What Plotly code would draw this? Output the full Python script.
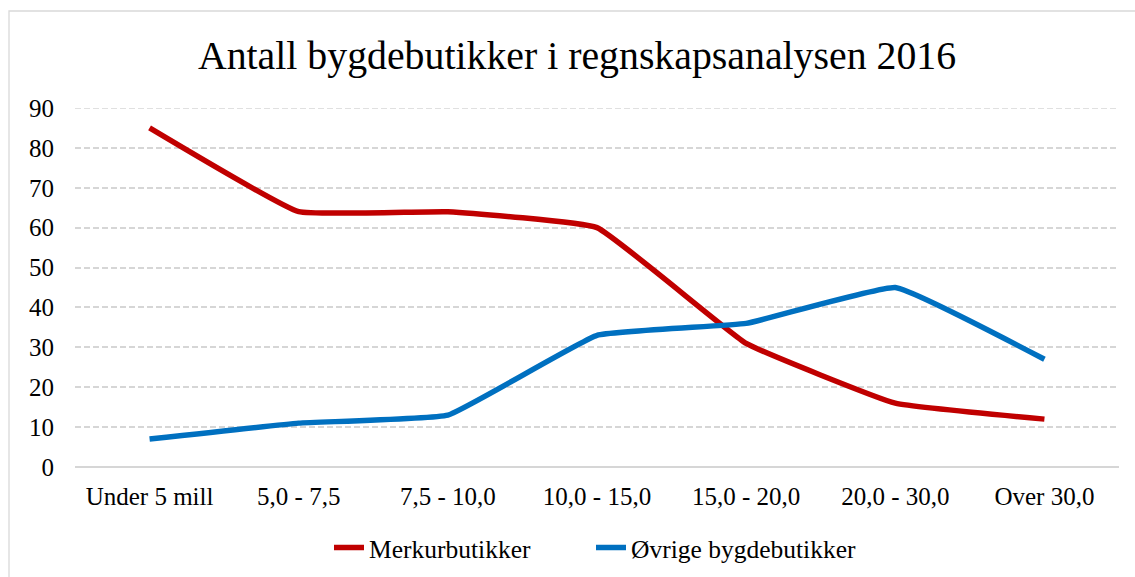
import plotly.graph_objects as go

categories = ["Under 5 mill", "5,0 - 7,5", "7,5 - 10,0", "10,0 - 15,0", "15,0 - 20,0", "20,0 - 30,0", "Over 30,0"]
merkur = [85, 64, 64, 60, 31, 16, 12]
ovrige = [7, 11, 13, 33, 36, 45, 27]
y_ticks = [0, 10, 20, 30, 40, 50, 60, 70, 80, 90]

FONT = "Liberation Serif"
W, H = 1135, 577
L, R, T, B = 75, 16, 108, 110
pw, ph = W - L - R, H - T - B

def px(x):
    return (x - L) / pw

def py(y):
    return (H - B - y) / ph

fig = go.Figure()
fig.add_trace(go.Scatter(x=categories, y=merkur, mode="lines", name="Merkurbutikker",
                         legend="legend",
                         line=dict(color="#C00000", width=5.5, shape="spline", smoothing=0.3)))
fig.add_trace(go.Scatter(x=categories, y=ovrige, mode="lines", name="Øvrige bygdebutikker",
                         legend="legend2",
                         line=dict(color="#0070C0", width=5.5, shape="spline", smoothing=0.3)))

leg_common = dict(orientation="h", xref="container", yref="container",
                  xanchor="left", y=1 - 548 / H, yanchor="middle",
                  font=dict(family=FONT, size=25.5), bgcolor="rgba(0,0,0,0)")

fig.update_layout(
    width=W, height=H,
    margin=dict(l=L, r=R, t=T, b=B, autoexpand=False),
    paper_bgcolor="white", plot_bgcolor="white",
    font=dict(family=FONT, color="#000000", size=25),
    title=dict(text="Antall bygdebutikker i regnskapsanalysen 2016",
               font=dict(family=FONT, size=39.8, color="#000000"),
               x=577 / W, xanchor="center", y=1 - 55 / H, yanchor="middle"),
    showlegend=True,
    legend=dict(x=329 / W, **leg_common),
    legend2=dict(x=591 / W, **leg_common),
    xaxis=dict(type="category", showgrid=False, showline=False, zeroline=False,
               automargin=False,
               ticks="", tickfont=dict(family=FONT, size=25), ticklabelstandoff=12,
               range=[-0.5, len(categories) - 0.5]),
    yaxis=dict(range=[0, 90], tickvals=y_ticks, showgrid=True, gridcolor="#D6D6D6",
               griddash="6px,3px", gridwidth=1.5, zeroline=True, zerolinecolor="#D6D6D6",
               zerolinewidth=1.8, showline=False, ticks="", automargin=False,
               tickfont=dict(family=FONT, size=25), ticklabelstandoff=20),
    shapes=[
        dict(type="line", xref="paper", yref="y", x0=0, x1=1, y0=y_ticks[-1], y1=y_ticks[-1],
             line=dict(color="#D6D6D6", width=1.5, dash="6px,3px"), layer="below"),
        dict(type="rect", xref="paper", yref="paper",
             x0=px(9), x1=px(1140), y0=py(590), y1=py(11),
             line=dict(color="#D9D9D9", width=1.3), layer="below"),
    ],
)

fig.write_html("out.html", config={"displayModeBar": False},
               post_script="document.body.style.margin='0';document.body.style.overflow='hidden';")
